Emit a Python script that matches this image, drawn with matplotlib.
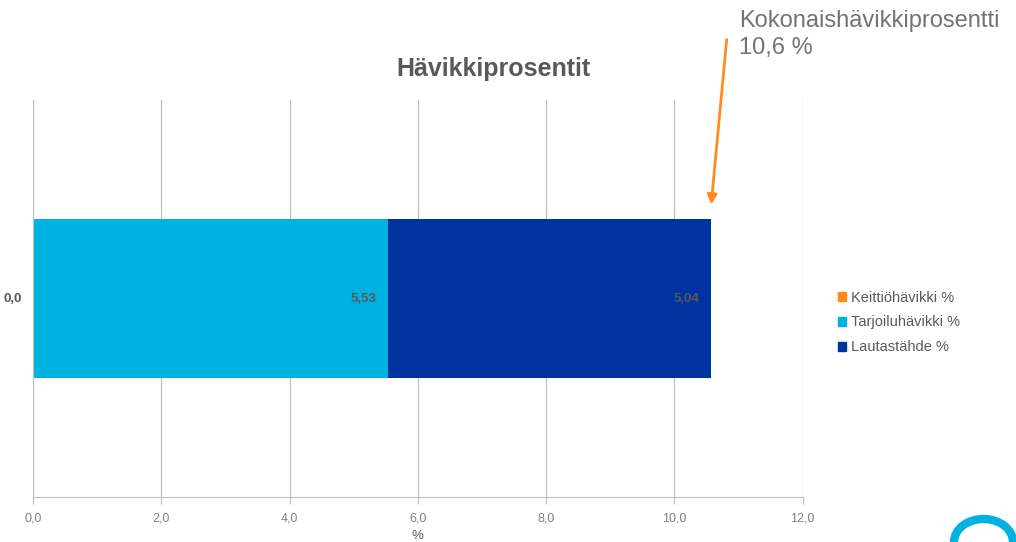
import matplotlib.pyplot as plt
from matplotlib.patches import Ellipse
import numpy as np

plt.rcParams['font.family'] = ['Liberation Sans', 'DejaVu Sans']

# data
series = ['Keittiöhävikki %', 'Tarjoiluhävikki %', 'Lautastähde %']
values = [0.0, 5.53, 5.04]
colors = ['#FF8C1A', '#00B2E0', '#0033A0']
total_label = 'Kokonaishävikkiprosentti\n10,6 %'
xticks = [0, 2, 4, 6, 8, 10, 12]

fig = plt.figure(figsize=(10.16, 5.42), dpi=100)
ax = fig.add_axes([0.0325, 0.083, 0.7575, 0.7325])

left = 0.0
for name, v, c in zip(series, values, colors):
    ax.barh(0, v, left=left, height=0.4, color=c, label=name, zorder=2)
    lbl = ('%.2f' % v).replace('.', ',') if v > 0 else '0,0'
    ax.text(left + v - 0.18, 0, lbl, ha='right', va='center', fontsize=9.5,
            fontweight='bold', color='#595959', zorder=3)
    left += v

ax.set_xlim(0, 12)
ax.set_ylim(-0.5, 0.5)
ax.set_xticks(xticks)
ax.set_xticklabels([('%.1f' % t).replace('.', ',') for t in xticks],
                   fontsize=9, color='#808080')
ax.set_yticks([])
ax.grid(axis='x', color='#BFBFBF', lw=0.9, zorder=0)
for s in ['top', 'right']:
    ax.spines[s].set_visible(False)
ax.spines['left'].set_color('#BFBFBF')
ax.spines['bottom'].set_color('#BFBFBF')
ax.tick_params(axis='x', length=5, color='#BFBFBF', pad=6)
ax.set_xlabel('%', fontsize=9.5, color='#595959', labelpad=4)

fig.text(0.486, 0.873, 'Hävikkiprosentit', ha='center', va='center',
         fontsize=18, fontweight='bold', color='#595959')

handles = [plt.Rectangle((0, 0), 1, 1, color=c) for c in colors]
fig.legend(handles, series, loc='center left', bbox_to_anchor=(0.818, 0.405),
           frameon=False, fontsize=10.5, labelcolor='#595959',
           handlelength=0.55, handleheight=0.55, handletextpad=0.3,
           labelspacing=0.75, borderpad=0)

fig.text(0.727, 0.982, total_label, ha='left', va='top', fontsize=17,
         color='#737373', linespacing=1.3)
ax.annotate('', xy=(sum(values), 0.23), xycoords='data',
            xytext=(0.7155, 0.932), textcoords='figure fraction',
            arrowprops=dict(arrowstyle='-|>', color='#FF8C1A', lw=2,
                            mutation_scale=14), annotation_clip=False)

# logo fragment
logo = Ellipse((0.968, 0.0), 0.058, 0.085, transform=fig.transFigure,
               fill=False, ec='#00B2E0', lw=6)
fig.add_artist(logo)

plt.savefig('out.png', dpi=100)
